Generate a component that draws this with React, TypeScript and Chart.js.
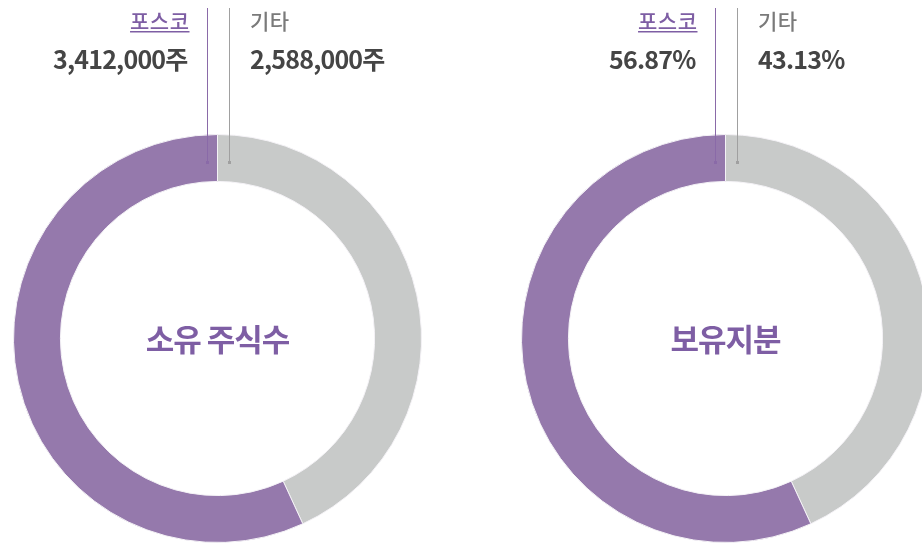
import React, { useEffect, useRef } from "react";
import { Chart, registerables } from "chart.js";

Chart.register(...registerables);

const categories = ["포스코", "기타"];
const sharesValues = [3412000, 2588000];
const shareLabels = ["3,412,000주", "2,588,000주"];
const stakeValues = [56.87, 43.13];
const stakeLabels = ["56.87%", "43.13%"];
const titles = ["소유 주식수", "보유지분"];

const PURPLE = "#9579AC";
const GRAY = "#C8CAC9";
const LABEL_PURPLE = "#7E5EA4";
const LABEL_GRAY = "#7A7A7A";
const VALUE_COLOR = "#454545";
const FONT = "'Noto Sans CJK KR', 'Noto Sans', sans-serif";

function makeOverlay(title: string, valueTexts: string[]) {
  return {
    id: "overlay",
    afterDraw(chart: any) {
      const ctx = chart.ctx as CanvasRenderingContext2D;
      const meta = chart.getDatasetMeta(0);
      const arc = meta.data[0];
      const cx = arc.x;
      const cy = arc.y;
      ctx.save();
      // leader lines
      const lines = [
        { x: Math.round(cx - 10.5) + 0.5, color: "#8A6AA8" },
        { x: Math.round(cx + 11) + 0.5, color: "#A0A0A0" },
      ];
      for (const l of lines) {
        ctx.strokeStyle = l.color;
        ctx.lineWidth = 1;
        ctx.beginPath();
        ctx.moveTo(l.x, 8);
        ctx.lineTo(l.x, 163);
        ctx.stroke();
        ctx.fillStyle = l.color;
        ctx.fillRect(l.x - 1.5, 161, 3, 3);
      }
      // category labels
      ctx.textBaseline = "alphabetic";
      ctx.font = `500 21px ${FONT}`;
      (ctx as any).letterSpacing = "0.5px";
      ctx.fillStyle = LABEL_PURPLE;
      ctx.textAlign = "right";
      const px = cx - 28;
      ctx.fillText(categories[0], px, 29);
      const w = ctx.measureText(categories[0]).width;
      ctx.fillRect(px - w, 31, w, 1.5);
      ctx.fillStyle = LABEL_GRAY;
      ctx.textAlign = "left";
      ctx.fillText(categories[1], cx + 32.5, 29);
      // values
      ctx.font = `bold 25px ${FONT}`;
      (ctx as any).letterSpacing = "-0.8px";
      ctx.fillStyle = VALUE_COLOR;
      ctx.textAlign = "right";
      ctx.fillText(valueTexts[0], cx - 30, 69);
      ctx.textAlign = "left";
      ctx.fillText(valueTexts[1], cx + 32.5, 69);
      // title
      ctx.font = `bold 31px ${FONT}`;
      (ctx as any).letterSpacing = "-1px";
      ctx.fillStyle = LABEL_PURPLE;
      ctx.textAlign = "center";
      ctx.textBaseline = "middle";
      ctx.fillText(title, cx, cy + 1);
      ctx.restore();
    },
  };
}

function Donut({ left, values, valueTexts, title }: { left: number; values: number[]; valueTexts: string[]; title: string }) {
  const ref = useRef<HTMLCanvasElement | null>(null);
  useEffect(() => {
    if (!ref.current) return;
    const chart = new Chart(ref.current, {
      type: "doughnut",
      data: {
        labels: [categories[1], categories[0]],
        datasets: [
          {
            data: [values[1], values[0]],
            backgroundColor: [GRAY, PURPLE],
            borderColor: "#f4f2f6",
            borderWidth: 1,
          },
        ],
      },
      options: {
        responsive: false,
        animation: false,
        cutout: "77%",
        layout: { padding: { top: 134, left: 13, right: 13, bottom: 1 } },
        plugins: { legend: { display: false }, tooltip: { enabled: false } },
      },
      plugins: [makeOverlay(title, valueTexts)],
    });
    return () => chart.destroy();
  }, []);
  return (
    <canvas
      ref={ref}
      width={435}
      height={544}
      style={{ position: "absolute", left, top: 0, width: 435, height: 544 }}
    />
  );
}

export default function App() {
  return (
    <div
      style={{
        position: "fixed",
        left: 0,
        top: 0,
        width: 922,
        height: 544,
        overflow: "hidden",
        background: "#fff",
      }}
    >
      <Donut left={0} values={sharesValues} valueTexts={shareLabels} title={titles[0]} />
      <Donut left={508} values={stakeValues} valueTexts={stakeLabels} title={titles[1]} />
    </div>
  );
}
